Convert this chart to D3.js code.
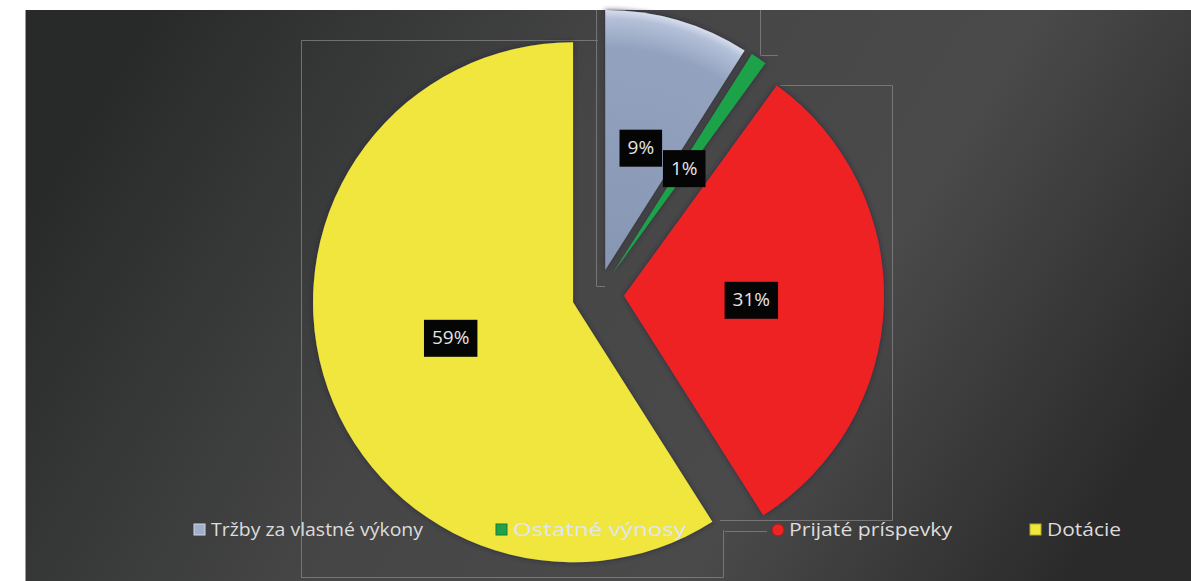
<!DOCTYPE html>
<html><head><meta charset="utf-8">
<script src="https://cdn.jsdelivr.net/npm/d3@7"></script>
<style>html,body{margin:0;padding:0;background:#fff;}svg{display:block;}</style>
</head><body>
<svg id="chart" width="1191" height="581"></svg>
<script>
const categories = ["Tržby za vlastné výkony", "Ostatné výnosy", "Prijaté príspevky", "Dotácie"];
const values = [9, 1, 31, 59];
const valueLabels = ["9%", "1%", "31%", "59%"];
const colors = ["#8f9dba", "#1fa24a", "#ee2323", "#f0e63c"];
const legendTextColors = ["#dcdcdc", "#dfe6f3", "#dcdcdc", "#dcdcdc"];

const W = 1191, H = 581;
const svg = d3.select("#chart");
const defs = svg.append("defs");

const bg = defs.append("linearGradient").attr("id", "bg")
  .attr("x1", "0").attr("y1", "0.35").attr("x2", "1").attr("y2", "0.65");
bg.append("stop").attr("offset", "0").attr("stop-color", "#282a2a");
bg.append("stop").attr("offset", "0.4").attr("stop-color", "#464646");
bg.append("stop").attr("offset", "0.7").attr("stop-color", "#4a4a4a");
bg.append("stop").attr("offset", "1").attr("stop-color", "#2a2a2a");

const blueGrad = defs.append("radialGradient").attr("id", "blueG")
  .attr("gradientUnits", "userSpaceOnUse").attr("cx", 0).attr("cy", 0).attr("r", 262);
blueGrad.append("stop").attr("offset", "0").attr("stop-color", "#8796b2");
blueGrad.append("stop").attr("offset", "0.85").attr("stop-color", "#93a2bf");
blueGrad.append("stop").attr("offset", "0.96").attr("stop-color", "#b4c0d8");
blueGrad.append("stop").attr("offset", "1").attr("stop-color", "#dfe6f2");

const shadow = defs.append("filter").attr("id", "sh")
  .attr("x", "-20%").attr("y", "-20%").attr("width", "140%").attr("height", "140%");
shadow.append("feDropShadow").attr("dx", 0).attr("dy", 0).attr("stdDeviation", 2.5)
  .attr("flood-color", "#20203a").attr("flood-opacity", 0.9);

// background
svg.append("rect").attr("x", 25).attr("y", 10).attr("width", W - 25).attr("height", H - 10)
  .attr("fill", "url(#bg)");
svg.append("line").attr("x1", 25.5).attr("x2", 25.5).attr("y1", 10).attr("y2", H)
  .attr("stroke", "#9a9a9a").attr("stroke-width", 1);

// leftover frame artefacts
const art = svg.append("g").attr("fill", "none").attr("stroke", "#8a8a8a").attr("stroke-width", 1).attr("opacity", 0.7);
art.append("path").attr("d", "M301.5,578V40.5H598");
art.append("path").attr("d", "M301.5,577.5H723.5V530");
art.append("path").attr("d", "M780,85.5H892.5V520.5H720");
art.append("path").attr("d", "M725,531.5H767");
art.append("path").attr("d", "M596.5,10V286.5H605");
art.append("path").attr("d", "M760.5,10V55.5H778");

const cx = 598, cy = 295, R = 260, explode = 26;
const pie = d3.pie().sort(null).value(d => d)(values);
const arc = d3.arc().innerRadius(0).outerRadius(R);

const fills = ["url(#blueG)", colors[1], colors[2], colors[3]];
const g = svg.append("g").attr("transform", `translate(${cx},${cy})`);
const slices = g.selectAll("g.slice").data(pie).join("g").attr("class", "slice")
  .attr("transform", d => {
    const a = (d.startAngle + d.endAngle) / 2;
    return `translate(${Math.sin(a) * explode},${-Math.cos(a) * explode})`;
  });
slices.append("path").attr("d", arc).attr("fill", (d, i) => fills[i]).attr("filter", "url(#sh)");

// data labels
const labG = g.selectAll("g.lab").data(pie).join("g").attr("class", "lab")
  .attr("transform", d => {
    const a = (d.startAngle + d.endAngle) / 2;
    const rr = explode + R * 0.49;
    return `translate(${Math.sin(a) * rr},${-Math.cos(a) * rr})`;
  });
labG.each(function(d, i) {
  const s = d3.select(this);
  const t = s.append("text").attr("text-anchor", "middle").attr("dy", "0.35em")
    .attr("font-family", "'Open Sans', 'Liberation Sans', sans-serif").attr("font-size", 19)
    .attr("fill", "#e4e4e4").text(valueLabels[i]);
  const w = t.node().getComputedTextLength();
  s.insert("rect", "text").attr("x", -w / 2 - 8).attr("y", -18).attr("width", w + 16).attr("height", 37)
    .attr("fill", "#050505");
});

// legend
const legendX = [194, 496, 772, 1030];
const legendW = [212, 173, 163, 74];
const legendY = 530;
const leg = svg.selectAll("g.leg").data(categories).join("g").attr("class", "leg")
  .attr("transform", (d, i) => `translate(${legendX[i]},${legendY})`);
leg.each(function(d, i) {
  const s = d3.select(this);
  if (i === 2) {
    s.append("circle").attr("cx", 6).attr("cy", 0).attr("r", 6).attr("fill", colors[i])
      .attr("stroke", "#b01818").attr("stroke-width", 1);
  } else {
    s.append("rect").attr("x", 0).attr("y", -6).attr("width", 11).attr("height", 11)
      .attr("fill", i === 0 ? "#9fb0cc" : colors[i]).attr("stroke", i === 0 ? "#d0d8e8" : d3.color(colors[i]).darker(0.8)).attr("stroke-width", 1);
  }
  s.append("text").attr("x", 17).attr("y", 0).attr("dy", "0.35em")
    .attr("font-family", "'Open Sans', 'Liberation Sans', sans-serif").attr("font-size", 18)
    .attr("fill", legendTextColors[i]).attr("textLength", legendW[i]).attr("lengthAdjust", "spacingAndGlyphs")
    .text(d);
});
</script>
</body></html>
